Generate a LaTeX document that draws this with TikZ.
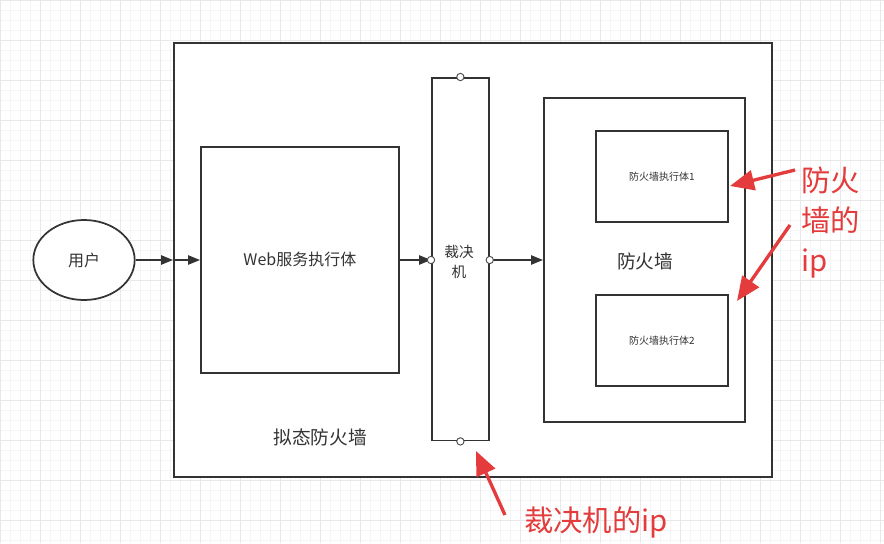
\documentclass[tikz,border=0pt]{standalone}
\usepackage{fontspec}
\setmainfont{Noto Sans CJK SC}
\usetikzlibrary{arrows.meta,shapes.geometric}
\definecolor{rd}{RGB}{228,60,60}
\begin{document}
\begin{tikzpicture}[x=0.75pt,y=-0.75pt,
  box/.style={draw=black!80,line width=1.3pt,fill=white},
  conn/.style={draw=black!80,line width=1.2pt,-{Triangle[length=9pt,width=7pt]}},
  port/.style={circle,draw=black!70,fill=white,inner sep=0pt,minimum size=5.5pt,line width=0.7pt},
  lbl/.style={font=\fontsize{12}{14}\selectfont,text=black!80},
  small/.style={font=\fontsize{7.5}{9}\selectfont,text=black!80},
  red/.style={text=rd,font=\fontsize{22}{30}\selectfont},
  redarr/.style={draw=rd,line width=2.5pt,-{Triangle[length=18pt,width=15pt]}}]
\useasboundingbox (0,0) rectangle (884,543);
\fill[white] (0,0) rectangle (884,543);
\draw[black!4,line width=0.4pt,step=7.5pt] (0,0) grid (884,543);
\draw[black!9,line width=0.5pt,step=30pt] (0,0) grid (884,543);
\node[box,minimum width=448.5pt,minimum height=325.5pt,anchor=north west,inner sep=0] (outer) at (173,42) {};
\node[box,ellipse,minimum width=76pt,minimum height=60pt,lbl] (user) at (84,260) {用户};
\node[box,minimum width=148.5pt,minimum height=169.5pt,anchor=north west,inner sep=0] (web) at (200,146) {};
\node[lbl] at (web.center) {Web服务执行体};
\node[box,minimum width=42.75pt,minimum height=272pt,anchor=north west,inner sep=0] (judge) at (431,77) {};
\node[lbl,align=center,font=\fontsize{11}{15}\selectfont] at (459,262) {裁决\\机};
\node[box,minimum width=150.75pt,minimum height=243pt,anchor=north west,inner sep=0] (fw) at (543,97) {};
\node[box,minimum width=99pt,minimum height=68.25pt,anchor=north west,inner sep=0] (fw1) at (595,130) {};
\node[small] at (fw1.center) {防火墙执行体1};
\node[box,minimum width=99pt,minimum height=68.25pt,anchor=north west,inner sep=0] (fw2) at (595,294) {};
\node[small] at (fw2.center) {防火墙执行体2};
\node[lbl,font=\fontsize{14}{16}\selectfont] at (645,261) {防火墙};
\node[lbl,font=\fontsize{14}{16}\selectfont] at (320,437) {拟态防火墙};
\coordinate (ob) at (173,260);
\draw[conn] (user.east) -- (ob);
\draw[conn] (ob) -- (web.west |- ob);
\draw[conn] (web.east |- ob) -- (judge.west |- ob);
\draw[conn] (judge.east |- ob) -- (fw.west |- ob);
\node[port] (p1) at (judge.north) {};
\node[port] (p2) at (judge.south) {};
\node[port] (p3) at (judge.west |- ob) {};
\node[port] (p4) at (judge.east |- ob) {};
\node[red,align=left,anchor=north west,inner sep=0] (t1) at (801,167) {防火\\墙的\\ip};
\node[red,anchor=west,inner sep=0] (t2) at (524,522) {裁决机的ip};
\coordinate (a1) at (795,170);
\coordinate (a2) at (790,225);
\coordinate (a3) at (505,515);
\draw[redarr] (a1) -- (730,186);
\draw[redarr] (a2) -- (737,301);
\draw[redarr] (a3) -- (476,451);
\end{tikzpicture}
\end{document}
